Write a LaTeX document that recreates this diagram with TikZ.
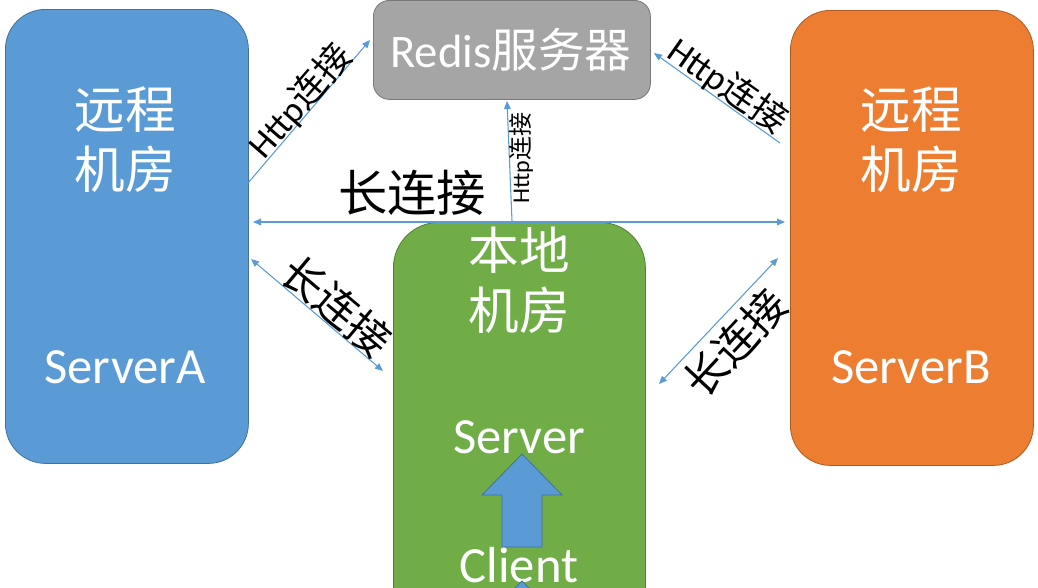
\documentclass[tikz,border=0pt]{standalone}
\usepackage{fontspec}
\setmainfont{Carlito}
\newfontfamily\cjk{Noto Sans CJK SC}
\usetikzlibrary{arrows.meta}
\definecolor{cblue}{HTML}{5B9BD5}
\definecolor{cblueb}{HTML}{41719C}
\definecolor{corange}{HTML}{ED7D31}
\definecolor{corangeb}{HTML}{AE5A21}
\definecolor{cgray}{HTML}{A5A5A5}
\definecolor{cgrayb}{HTML}{787878}
\definecolor{cgreen}{HTML}{70AD47}
\definecolor{cgreenb}{HTML}{507E32}
\tikzset{
  room/.style={draw, line width=0.6pt, rounded corners=30pt, anchor=north west, inner sep=0pt},
  wtext/.style={text=white, font=\fontsize{38}{45}\selectfont, align=center, inner sep=0pt},
  conn/.style={draw=cblue, line width=0.8pt},
  tip/.style={-{Triangle[length=6pt,width=5pt]}},
  tips/.style={{Triangle[length=6pt,width=5pt]}-{Triangle[length=6pt,width=5pt]}},
  lbl/.style={text=black, inner sep=0pt},
}
\begin{document}
\begin{tikzpicture}[x=0.75pt,y=-0.75pt]
\clip (0,0) rectangle (1038,587);
\fill[white] (0,0) rectangle (1038,587);
% boxes
\node[room, fill=cblue, draw=cblueb, minimum width=182.25pt, minimum height=340.5pt] (A) at (5,9) {};
\node[room, fill=corange, draw=corangeb, minimum width=182.25pt, minimum height=341.25pt] (B) at (790,10) {};
\node[room, fill=cgray, draw=cgrayb, rounded corners=12pt, minimum width=207.75pt, minimum height=74.25pt] (R) at (373,0) {};
\node[room, fill=cgreen, draw=cgreenb, rounded corners=34pt, minimum width=189pt, minimum height=330pt] (L) at (393,222) {};
% box texts
\node[wtext] (At) at (125,140) {\cjk 远程\\\cjk 机房};
\node[wtext] (As) at (125,367) {ServerA};
\node[wtext] (Bt) at (911,140) {\cjk 远程\\\cjk 机房};
\node[wtext] (Bs) at (911,367) {ServerB};
\node[wtext, font=\fontsize{35}{40}\selectfont] (Rt) at (511,50) {Redis{\cjk 服务器}};
\node[wtext] (Lt) at (519,280) {\cjk 本地\\\cjk 机房};
\node[wtext] (Ls) at (519,437) {Server};
\node[wtext] (Lc) at (519,565) {Client};
% block arrow
\draw[fill=cblue, draw=cblueb, line width=0.6pt] (522,454) -- (562,495) -- (542,495) -- (542,547) -- (502,547) -- (502,495) -- (482,495) -- cycle;
\draw[fill=cblue, draw=cblueb, line width=0.6pt] (522,581) -- (534,593) -- (510,593) -- cycle;
% connector end points
\coordinate (p1) at (248,183);
\coordinate (q1) at (370,40);
\coordinate (p2) at (780,143);
\coordinate (q2) at (654,53);
\coordinate (p3) at (512,221);
\coordinate (q3) at (507,101);
\coordinate (p4) at (253,222);
\coordinate (q4) at (785,222);
\coordinate (p5) at (251,259);
\coordinate (q5) at (383,371);
\coordinate (p6) at (659,384);
\coordinate (q6) at (778,258);
\draw[conn, tip] (p1) -- (q1);
\draw[conn, tip] (p2) -- (q2);
\draw[conn, tip] (p3) -- (q3);
\draw[conn, tips] (p4) -- (q4);
\draw[conn, tips] (p5) -- (q5);
\draw[conn, tips] (p6) -- (q6);
% labels
\node[lbl, rotate=49, font=\fontsize{27}{27}\selectfont] (l1) at (300,101) {Http{\cjk 连接}};
\node[lbl, rotate=-35, font=\fontsize{27}{27}\selectfont] (l2) at (728,86) {Http{\cjk 连接}};
\node[lbl, rotate=90, font=\fontsize{18}{18}\selectfont] (l3) at (521,158) {Http{\cjk 连接}};
\node[lbl, font=\fontsize{37}{37}\selectfont] (l4) at (412,193) {\cjk 长连接};
\node[lbl, rotate=-40, font=\fontsize{32}{32}\selectfont] (l5) at (337,306) {\cjk 长连接};
\node[lbl, rotate=47, font=\fontsize{32}{32}\selectfont] (l6) at (735,343) {\cjk 长连接};
\end{tikzpicture}
\end{document}
